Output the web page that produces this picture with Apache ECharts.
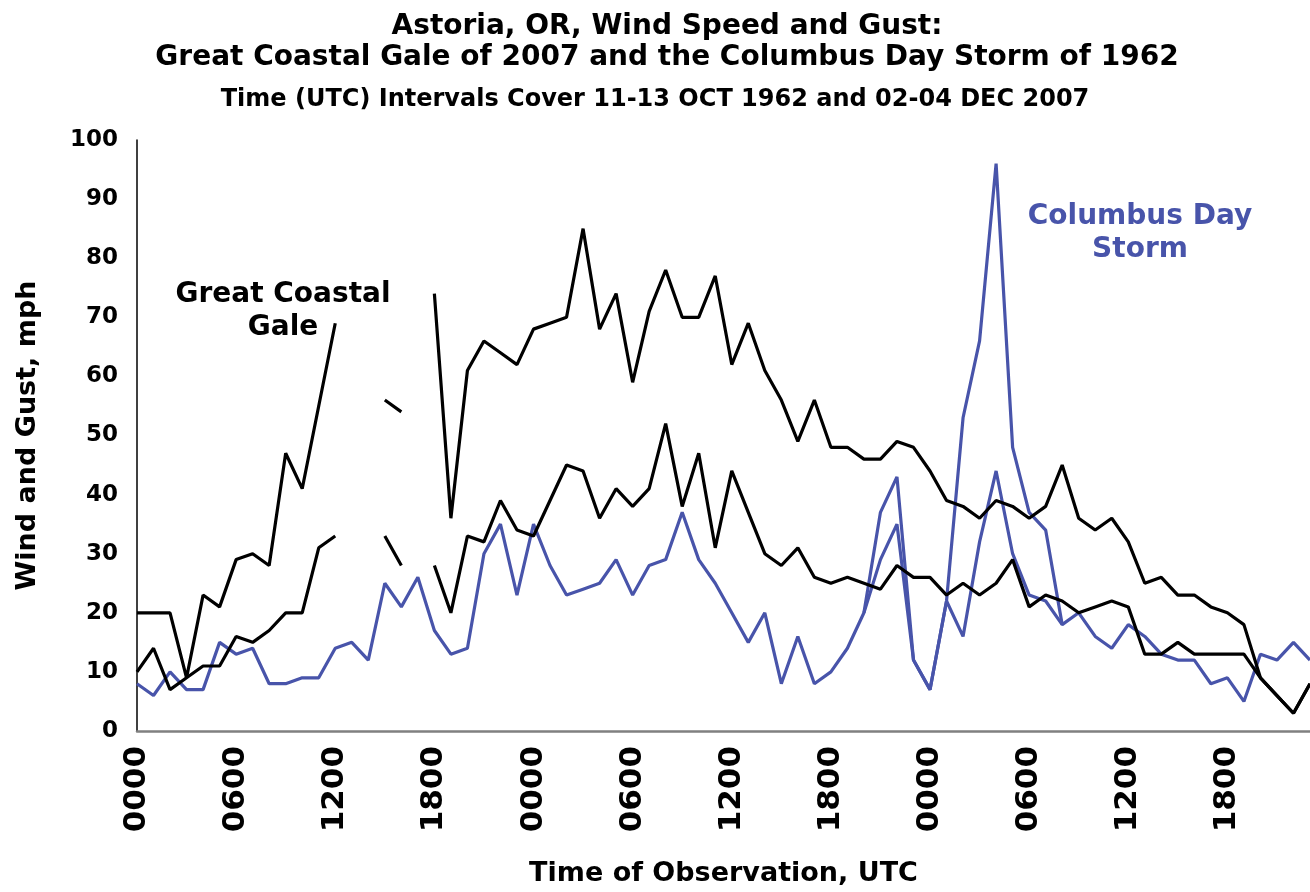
<!DOCTYPE html>
<html>
<head>
<meta charset="utf-8">
<script src="https://cdn.jsdelivr.net/npm/echarts@6/dist/echarts.min.js"></script>
<style>
html,body{margin:0;padding:0;background:#ffffff;}
#chart{width:1310px;height:892px;}
</style>
</head>
<body>
<div id="chart"></div>
<script>
// Hourly observation times (UTC), three days
const timeLabels = [
  '0000','0100','0200','0300','0400','0500','0600','0700','0800','0900','1000','1100',
  '1200','1300','1400','1500','1600','1700','1800','1900','2000','2100','2200','2300',
  '0000','0100','0200','0300','0400','0500','0600','0700','0800','0900','1000','1100',
  '1200','1300','1400','1500','1600','1700','1800','1900','2000','2100','2200','2300',
  '0000','0100','0200','0300','0400','0500','0600','0700','0800','0900','1000','1100',
  '1200','1300','1400','1500','1600','1700','1800','1900','2000','2100','2200','2300'
];

// Great Coastal Gale 2007 — gust (mph)
const gcgGust = [
  20,20,20,9,23,21,29,30,28,47,41,55,
  69,null,null,56,54,null,74,36,61,66,64,62,
  68,69,70,85,68,74,59,71,78,70,70,77,
  62,69,61,56,49,56,48,48,46,46,49,48,
  44,39,38,36,39,38,36,38,45,36,34,36,
  32,25,26,23,23,21,20,18,9,6,3,8
];

// Great Coastal Gale 2007 — sustained wind (mph)
const gcgWind = [
  10,14,7,9,11,11,16,15,17,20,20,31,
  33,null,null,33,28,null,28,20,33,32,39,34,
  33,39,45,44,36,41,38,41,52,38,47,31,
  44,37,30,28,31,26,25,26,25,24,28,26,
  26,23,25,23,25,29,21,23,22,20,21,22,
  21,13,13,15,13,13,13,13,9,6,3,8
];

// Columbus Day Storm 1962 — sustained wind (mph)
const cdsWind = [
  8,6,10,7,7,15,13,14,8,8,9,9,
  14,15,12,25,21,26,17,13,14,30,35,23,
  35,28,23,24,25,29,23,28,29,37,29,25,
  20,15,20,8,16,8,10,14,20,29,35,12,
  7,22,16,32,44,30,23,22,18,20,16,14,
  18,16,13,12,12,8,9,5,13,12,15,12
];

// Columbus Day Storm 1962 — gust (mph), reported only around the storm peak
const cdsGust = [
  null,null,null,null,null,null,null,null,null,null,null,null,
  null,null,null,null,null,null,null,null,null,null,null,null,
  null,null,null,null,null,null,null,null,null,null,null,null,
  null,null,null,null,null,null,null,null,20,37,43,12,
  7,22,53,66,96,48,37,34,18,null,null,null,
  null,null,null,null,null,null,null,null,null,null,null,null
];

const FONT = '"DejaVu Sans", Verdana, sans-serif';
const BLACK = '#000000';
const BLUE = '#4854aa';

const chart = echarts.init(document.getElementById('chart'), null, {renderer: 'canvas'});

chart.setOption({
  backgroundColor: '#ffffff',
  animation: false,
  grid: {left: 137, right: -6, top: 140, bottom: 153, containLabel: false},
  xAxis: {
    type: 'category',
    data: timeLabels,
    boundaryGap: false,
    name: 'Time of Observation, UTC',
    nameLocation: 'middle',
    nameGap: 129,
    nameTextStyle: {fontFamily: FONT, fontWeight: 'bold', fontSize: 27, color: '#000'},
    axisLine: {show: true, lineStyle: {color: '#808080', width: 2.5}},
    axisTick: {show: false},
    splitLine: {show: false},
    axisLabel: {
      interval: 5,
      rotate: 90,
      margin: 15,
      fontFamily: FONT,
      fontWeight: 'bold',
      fontSize: 31,
      color: '#000'
    }
  },
  yAxis: {
    type: 'value',
    min: 0,
    max: 100,
    interval: 10,
    name: 'Wind and Gust, mph',
    nameLocation: 'middle',
    nameGap: 96,
    nameRotate: 90,
    nameTextStyle: {fontFamily: FONT, fontWeight: 'bold', fontSize: 27, color: '#000'},
    axisLine: {show: true, lineStyle: {color: '#000', width: 1.5}},
    axisTick: {show: false},
    splitLine: {show: false},
    axisLabel: {margin: 19, fontFamily: FONT, fontWeight: 'bold', fontSize: 23, color: '#000'}
  },
  series: [
    {name: 'Columbus Day Storm wind', type: 'line', data: cdsWind, symbol: 'none',
     lineStyle: {color: BLUE, width: 3.2}, connectNulls: false, z: 2},
    {name: 'Columbus Day Storm gust', type: 'line', data: cdsGust, symbol: 'none',
     lineStyle: {color: BLUE, width: 3.2}, connectNulls: false, z: 2},
    {name: 'Great Coastal Gale wind', type: 'line', data: gcgWind, symbol: 'none',
     lineStyle: {color: BLACK, width: 3.2}, connectNulls: false, z: 3},
    {name: 'Great Coastal Gale gust', type: 'line', data: gcgGust, symbol: 'none',
     lineStyle: {color: BLACK, width: 3.2}, connectNulls: false, z: 3}
  ],
  graphic: [
    {type: 'text', x: 667, y: 27, z: 10, style: {text: 'Astoria, OR, Wind Speed and Gust:', textAlign: 'center', textVerticalAlign: 'middle', font: 'bold 28px "DejaVu Sans", sans-serif', fill: '#000'}},
    {type: 'text', x: 667, y: 58, z: 10, style: {text: 'Great Coastal Gale of 2007 and the Columbus Day Storm of 1962', textAlign: 'center', textVerticalAlign: 'middle', font: 'bold 28px "DejaVu Sans", sans-serif', fill: '#000'}},
    {type: 'text', x: 655, y: 100, z: 10, style: {text: 'Time (UTC) Intervals Cover 11-13 OCT 1962 and 02-04 DEC 2007', textAlign: 'center', textVerticalAlign: 'middle', font: 'bold 24px "DejaVu Sans", sans-serif', fill: '#000'}},
    {type: 'text', x: 283, y: 295, z: 10, style: {text: 'Great Coastal', textAlign: 'center', textVerticalAlign: 'middle', font: 'bold 28px "DejaVu Sans", sans-serif', fill: '#000'}},
    {type: 'text', x: 283, y: 328, z: 10, style: {text: 'Gale', textAlign: 'center', textVerticalAlign: 'middle', font: 'bold 28px "DejaVu Sans", sans-serif', fill: '#000'}},
    {type: 'text', x: 1140, y: 217, z: 10, style: {text: 'Columbus Day', textAlign: 'center', textVerticalAlign: 'middle', font: 'bold 28px "DejaVu Sans", sans-serif', fill: BLUE}},
    {type: 'text', x: 1140, y: 250, z: 10, style: {text: 'Storm', textAlign: 'center', textVerticalAlign: 'middle', font: 'bold 28px "DejaVu Sans", sans-serif', fill: BLUE}}
  ]
});
</script>
</body>
</html>
